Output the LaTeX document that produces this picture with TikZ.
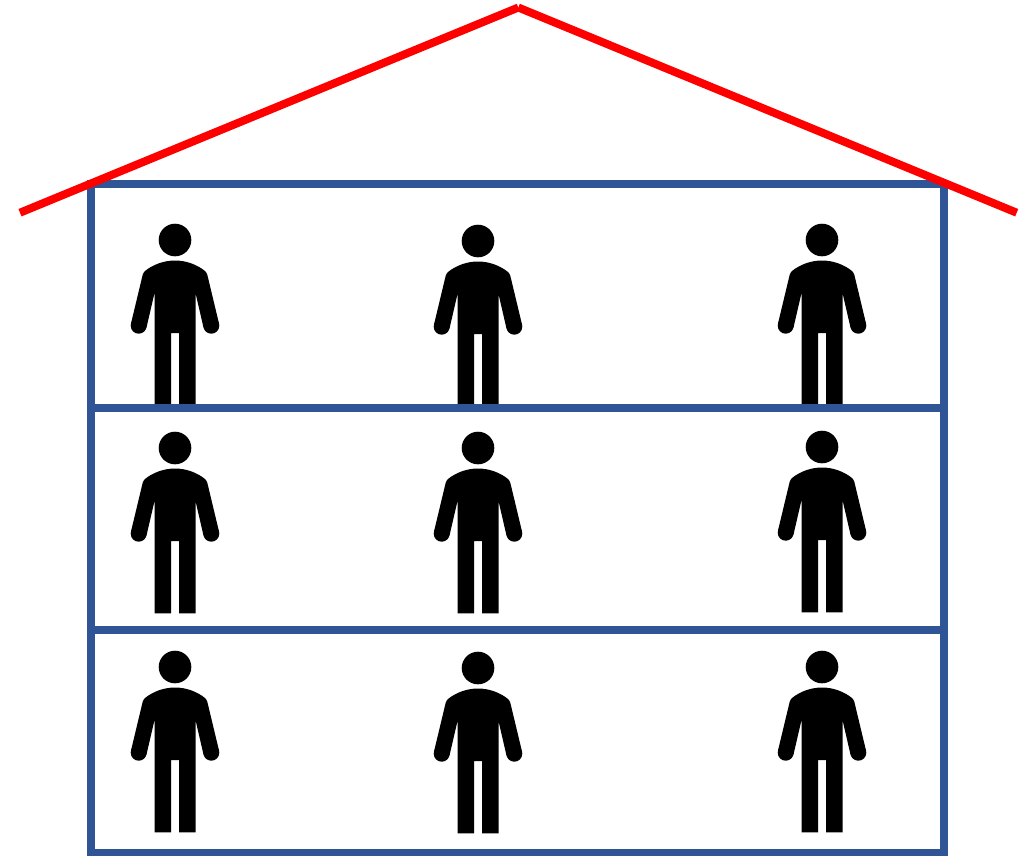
\documentclass[tikz,border=0pt]{standalone}
\definecolor{wallblue}{HTML}{2F5597}
\definecolor{roofred}{HTML}{FF0000}
\tikzset{
  wall/.style={draw=wallblue,line width=8pt},
  roof/.style={draw=roofred,line width=8pt},
  person/.pic={
    \fill[black] (0,0) circle (16.3);
    \fill[black] (-36.3,85.7) circle (8);
    \fill[black] (36.3,85.7) circle (8);
    \fill[black] (-32.3,34.7) .. controls (-31.5,32.5) and (-30.5,31.5) .. (-30,31)
      .. controls (-22,24.5) and (-11,20.5) .. (0,20.5)
      .. controls (11,20.5) and (22,24.5) .. (30,31)
      .. controls (30.5,31.5) and (31.5,32.5) .. (32.3,34.7)
      -- (44.1,83.9) -- (28.5,87.5)
      -- (20.5,53) -- (20.5,165.3) -- (4,165.3) -- (4,93) -- (-4,93) -- (-4,165.3) -- (-20.5,165.3) -- (-20.5,53)
      -- (-28.5,87.5) -- (-44.1,83.9) -- cycle;
  }
}
\begin{document}
\begin{tikzpicture}[x=1pt,y=-1pt]
\useasboundingbox (0,0) rectangle (1033,855);
\foreach \px/\py in {175/240,478/241,822/240,175/448,478/448,822/447,175/667,478/668,822/667}
  \pic at (\px,\py) {person};
\draw[wall] (91.4,184) rectangle (944,853);
\draw[wall] (91.4,408) -- (944,408);
\draw[wall] (91.4,630.3) -- (944,630.3);
\draw[roof] (20,212.7) -- (518.3,7.5);
\draw[roof] (518.3,7.5) -- (1016.7,212.7);
\end{tikzpicture}
\end{document}
